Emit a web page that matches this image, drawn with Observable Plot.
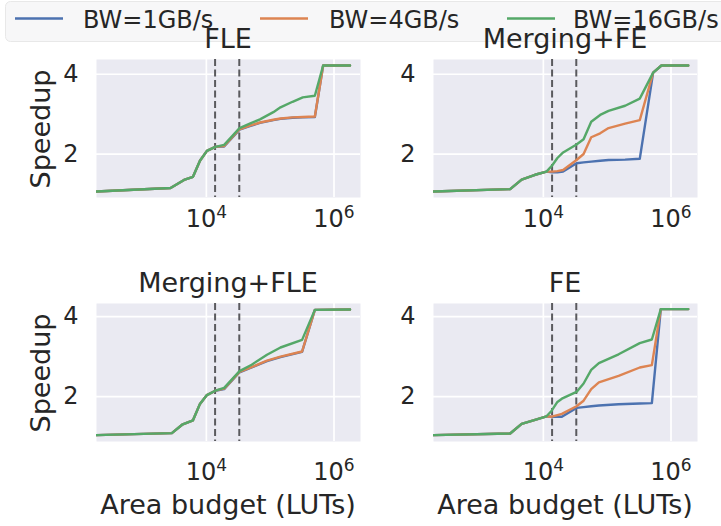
<!DOCTYPE html>
<html>
<head>
<meta charset="utf-8">
<script src="https://cdn.jsdelivr.net/npm/d3@7"></script>
<script src="https://cdn.jsdelivr.net/npm/@observablehq/plot@0.6"></script>
<style>
  html, body { margin: 0; padding: 0; background: #fff; }
  #wrap { position: relative; width: 721px; height: 526px; overflow: hidden; font-family: "DejaVu Sans", sans-serif; }
  #wrap > svg { position: absolute; }
  #overlay { left: 0; top: 0; pointer-events: none; }
</style>
</head>
<body>
<div id="wrap"></div>
<script>
// ---- data ----
const bwLabels = ["BW=1GB/s", "BW=4GB/s", "BW=16GB/s"];
const bwColors = ["#4C72B0", "#DD8452", "#55A868"];
const dashedBudgets = [13700, 32800];
const xTicks = [1e4, 1e6];
const yTicks = [2, 4];

// FLE
const xFLE   = [190, 2750, 4470, 6170, 7940, 10200, 13800, 19000, 33100, 47900, 69200, 112000, 145000, 224000, 324000, 501000, 676000, 1780000];
const fle1   = [1.06, 1.15, 1.35, 1.43, 1.83, 2.08, 2.18, 2.19, 2.61, 2.70, 2.78, 2.85, 2.88, 2.91, 2.92, 2.93, 4.22, 4.22];
const fle4   = [1.06, 1.15, 1.35, 1.43, 1.83, 2.08, 2.18, 2.20, 2.62, 2.71, 2.79, 2.86, 2.89, 2.92, 2.93, 2.94, 4.22, 4.22];
const fle16  = [1.06, 1.15, 1.35, 1.43, 1.83, 2.08, 2.18, 2.23, 2.65, 2.76, 2.87, 3.05, 3.17, 3.31, 3.42, 3.46, 4.22, 4.22];

// Merging+FE
const xMFE   = [190, 3020, 4570, 7410, 11200, 13800, 16600, 20400, 33100, 42700, 56200, 77600, 105000, 191000, 324000, 525000, 708000, 1860000];
const mfe1   = [1.06, 1.12, 1.36, 1.48, 1.56, 1.54, 1.54, 1.56, 1.77, 1.79, 1.81, 1.83, 1.85, 1.86, 1.88, 4.04, 4.22, 4.22];
const mfe4   = [1.06, 1.12, 1.36, 1.48, 1.56, 1.56, 1.57, 1.60, 1.85, 2.00, 2.42, 2.52, 2.65, 2.76, 2.85, 4.04, 4.22, 4.22];
const mfe16  = [1.06, 1.12, 1.36, 1.48, 1.56, 1.72, 1.90, 2.04, 2.24, 2.37, 2.81, 2.98, 3.08, 3.21, 3.39, 4.04, 4.22, 4.22];

// Merging+FLE
const xMFLE  = [190, 2880, 4170, 6170, 7940, 10200, 13800, 19000, 33100, 51300, 89100, 145000, 316000, 501000, 1780000];
const mfle1  = [1.04, 1.09, 1.30, 1.41, 1.82, 2.04, 2.15, 2.19, 2.61, 2.73, 2.89, 2.99, 3.12, 4.17, 4.18];
const mfle4  = [1.04, 1.09, 1.30, 1.41, 1.82, 2.04, 2.15, 2.20, 2.62, 2.74, 2.90, 3.00, 3.13, 4.17, 4.18];
const mfle16 = [1.04, 1.09, 1.30, 1.41, 1.82, 2.04, 2.15, 2.22, 2.64, 2.80, 3.05, 3.23, 3.42, 4.17, 4.18];

// FE
const xFE    = [190, 3020, 4570, 7410, 11200, 13500, 16600, 19500, 33100, 42700, 56200, 74100, 151000, 324000, 501000, 692000, 1860000];
const fe1    = [1.04, 1.08, 1.32, 1.42, 1.51, 1.50, 1.50, 1.50, 1.72, 1.74, 1.76, 1.78, 1.81, 1.83, 1.84, 4.19, 4.19];
const fe4    = [1.04, 1.08, 1.32, 1.42, 1.51, 1.50, 1.54, 1.57, 1.76, 1.90, 2.19, 2.36, 2.52, 2.73, 2.79, 4.19, 4.19];
const fe16   = [1.04, 1.08, 1.32, 1.42, 1.51, 1.65, 1.87, 1.95, 2.12, 2.33, 2.67, 2.84, 3.06, 3.34, 3.43, 4.19, 4.19];

// ---- layout ----
const PW = 264, PH = 138;
const ML = 50, MR = 10, MT = 5, MB = 50;
const panels = [
  {title: "FLE",         xs: xFLE,  ys: [fle1, fle4, fle16],    left: 96,  top: 59,  yDomain: [0.91, 4.37], pad: 12},
  {title: "Merging+FE",  xs: xMFE,  ys: [mfe1, mfe4, mfe16],    left: 433, top: 59,  yDomain: [0.91, 4.37], pad: 12},
  {title: "Merging+FLE", xs: xMFLE, ys: [mfle1, mfle4, mfle16], left: 96,  top: 303, yDomain: [0.88, 4.33], pad: 21},
  {title: "FE",          xs: xFE,   ys: [fe1, fe4, fe16],       left: 433, top: 303, yDomain: [0.88, 4.33], pad: 21}
];
const fmtX = d => "10^" + Math.round(Math.log10(d));

const wrap = document.getElementById("wrap");

for (const p of panels) {
  const data = [];
  p.ys.forEach((arr, k) => arr.forEach((v, i) => data.push({x: p.xs[i], y: v, bw: bwLabels[k]})));
  const chart = Plot.plot({
    width: PW + ML + MR,
    height: PH + MT + MB,
    marginLeft: ML, marginRight: MR, marginTop: MT, marginBottom: MB,
    style: {fontFamily: "DejaVu Sans", fontSize: "24px", color: "#262626", background: "transparent", overflow: "visible"},
    x: {type: "log", domain: [190, 2.6e6]},
    y: {domain: p.yDomain},
    color: {domain: bwLabels, range: bwColors},
    marks: [
      Plot.frame({fill: "#EAEAF2", stroke: "none"}),
      Plot.gridX(xTicks, {stroke: "white", strokeOpacity: 1, strokeWidth: 1.7}),
      Plot.gridY(yTicks, {stroke: "white", strokeOpacity: 1, strokeWidth: 1.7}),
      Plot.ruleX(dashedBudgets, {stroke: "#5a5a5e", strokeWidth: 2, strokeDasharray: "7,3.5"}),
      Plot.line(data, {x: "x", y: "y", z: "bw", stroke: "bw", strokeWidth: 2.4, clip: true}),
      Plot.axisX(xTicks, {tickSize: 0, tickPadding: p.pad, tickFormat: fmtX, label: null, fontSize: 24}),
      Plot.axisY(yTicks, {tickSize: 0, tickPadding: 18, tickFormat: d => String(d), label: null, fontSize: 24})
    ]
  });
  // render "10^k" as 10 with a raised exponent (like matplotlib mathtext)
  chart.querySelectorAll('g[aria-label="x-axis tick label"] text').forEach(t => {
    const s = t.textContent;
    const m = s.match(/^10\^(\d+)$/);
    if (!m) return;
    t.textContent = "10";
    const ts = document.createElementNS("http://www.w3.org/2000/svg", "tspan");
    ts.setAttribute("font-size", "17");
    ts.setAttribute("dy", "-9");
    ts.textContent = m[1];
    t.appendChild(ts);
  });
  chart.style.left = (p.left - ML) + "px";
  chart.style.top = (p.top - MT) + "px";
  wrap.appendChild(chart);
}

// ---- overlay: legend, titles, axis labels ----
const ns = "http://www.w3.org/2000/svg";
const ov = document.createElementNS(ns, "svg");
ov.setAttribute("id", "overlay");
ov.setAttribute("width", 721);
ov.setAttribute("height", 526);
wrap.appendChild(ov);
function el(tag, attrs, text) {
  const e = document.createElementNS(ns, tag);
  for (const k in attrs) e.setAttribute(k, attrs[k]);
  if (text != null) e.textContent = text;
  ov.appendChild(e);
  return e;
}
el("rect", {x: 5.5, y: 1.5, width: 740, height: 40, rx: 5, fill: "#f7f7f8", stroke: "#e8e8e8", "stroke-width": 1});
const legendHandles = [15, 260, 507];
const legendTexts = [83, 329, 573];
bwLabels.forEach((lab, k) => {
  el("line", {x1: legendHandles[k], x2: legendHandles[k] + 48, y1: 18.5, y2: 18.5, stroke: bwColors[k], "stroke-width": 2.6});
  el("text", {x: legendTexts[k], y: 28, "font-size": 24, fill: "#262626", "font-family": "DejaVu Sans"}, lab);
});
for (const p of panels) {
  el("text", {x: p.left + PW / 2, y: p.top - 11, "text-anchor": "middle", "font-size": 27, fill: "#262626", "font-family": "DejaVu Sans"}, p.title);
  if (p.left < 200) {
    el("text", {x: 0, y: 0, transform: `translate(50,${p.top + PH / 2 + 1}) rotate(-90)`, "text-anchor": "middle", "font-size": 27, fill: "#262626", "font-family": "DejaVu Sans"}, "Speedup");
  }
  if (p.top > 200) {
    el("text", {x: p.left + PW / 2, y: 514, "text-anchor": "middle", "font-size": 27, fill: "#262626", "font-family": "DejaVu Sans"}, "Area budget (LUTs)");
  }
}
</script>
</body>
</html>
